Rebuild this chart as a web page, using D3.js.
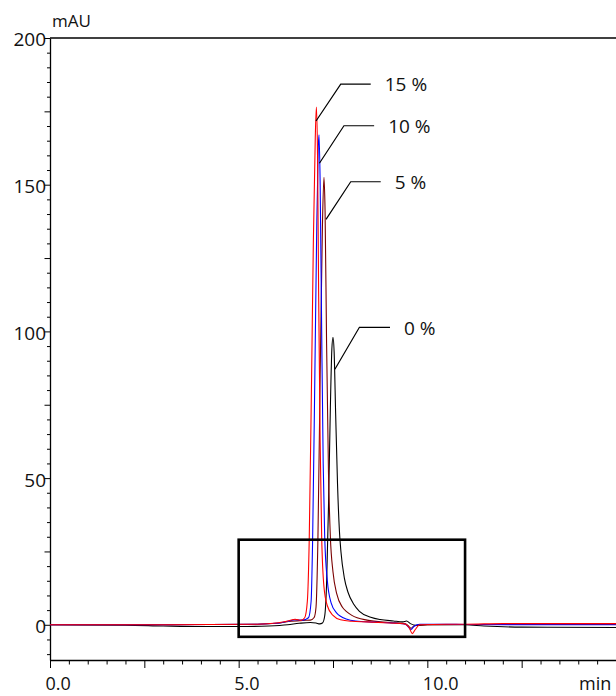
<!DOCTYPE html>
<html>
<head>
<meta charset="utf-8">
<script src="https://cdn.jsdelivr.net/npm/d3@7"></script>
<style>
  html, body { margin: 0; padding: 0; background: #fff; }
  svg { display: block; }
  text { font-family: "Open Sans", "DejaVu Sans", sans-serif; fill: #111; }
</style>
</head>
<body>
<div id="chart"></div>
<script>
// ---- Data (time in min, absorbance in mAU) ----
const seriesNames = ["0 %", "5 %", "10 %", "15 %"];
const seriesColors = ["#000000", "#7a0000", "#0000ff", "#ff0000"];

const trace0 = [ // 0 %
  [0,0],[2,-0.1],[3,-0.4],[4,-0.6],[5,-0.6],[5.8,-0.4],[6.3,0],[6.6,0.5],[6.9,0.8],[7.05,0.6],[7.15,0.3],
  [7.22,0.6],[7.28,3],[7.33,14],[7.38,40],[7.43,74],[7.47,94],[7.5,98],[7.53,93],[7.57,72],[7.62,48],
  [7.67,32],[7.71,25],[7.8,16],[7.9,11],[8.05,7],[8.2,4.6],[8.5,2.6],[8.75,1.8],[9.1,1.3],[9.35,1.0],
  [9.45,1.3],[9.55,0.4],[9.7,-0.2],[10,0],[11,0],[11.5,-0.4],[12.5,-0.8],[15,-0.9]
];
const trace5 = [ // 5 %
  [0,0],[3,0],[5.5,0.2],[6.0,0.5],[6.4,1.2],[6.7,1.5],[6.9,1.6],[7.0,2.5],[7.05,6],[7.1,29],[7.16,85],
  [7.22,136],[7.26,152.5],[7.29,141],[7.33,96],[7.38,52],[7.43,30],[7.5,18],[7.6,10.5],[7.75,6],[7.86,4.5],
  [8.0,3.2],[8.4,1.6],[9.0,0.8],[9.4,0.4],[9.5,-0.4],[9.57,-1.2],[9.65,-0.3],[10,0],[11,0.1],[15,0.1]
];
const trace10 = [ // 10 %
  [0,0],[3,0],[5.5,0.2],[6.0,0.5],[6.3,1.2],[6.5,1.7],[6.7,1.6],[6.85,2.4],[6.92,8],[6.96,29],[7.02,86],
  [7.07,136],[7.11,163],[7.13,167],[7.16,150],[7.2,100],[7.24,55],[7.28,30],[7.35,15],[7.45,7.5],
  [7.6,4],[7.7,2.9],[7.85,2],[8.1,1.3],[8.6,0.9],[9.2,0.5],[9.42,0.2],[9.5,-0.8],[9.57,-1.6],[9.65,-0.5],
  [9.8,0.2],[10.5,0.2],[11,0.1],[15,0]
];
const trace15 = [ // 15 %
  [0,0],[3,0],[5.5,0.2],[6.0,0.6],[6.3,1.3],[6.5,1.9],[6.65,1.5],[6.75,2.4],[6.82,8],[6.87,29],[6.93,82],
  [6.98,131],[7.03,166],[7.06,176.5],[7.09,160],[7.12,112],[7.16,62],[7.2,30],[7.26,13],[7.35,6.5],
  [7.5,3.2],[7.7,1.7],[8.0,1.2],[8.4,1.0],[9.0,0.6],[9.4,0.3],[9.52,-1],[9.6,-3],[9.68,-1.6],[9.8,0],
  [10.5,0.2],[11,0.2],[12,0.4],[15,0.4]
];
const traces = [trace0, trace5, trace10, trace15];

// Leader lines: [start t, start v, elbow t, elbow v, end t]
const leaders = [
  [7.55, 87.1, 8.20, 101.4, 9.01],
  [7.315, 138.2, 7.97, 151.0, 8.765],
  [7.14, 157.3, 7.79, 170.1, 8.59],
  [7.05, 171.7, 7.705, 184.3, 8.50]
];

// Highlight box: [t0, t1, v0, v1]
const box = [5.0, 11.0, -4.1, 29];

const xDomain = [0, 15];
const yDomain = [-12, 200];
const xMajor = [0, 5, 10];
const xMajorLabels = ["0.0", "5.0", "10.0"];
const yMajor = [0, 50, 100, 150, 200];
const xUnit = "min";
const yUnit = "mAU";

// ---- Layout ----
const W = 616, H = 696;
const FS = "19px";
const svg = d3.select("#chart").append("svg").attr("width", W).attr("height", H);

const x = d3.scaleLinear().domain(xDomain).range([50, 616]);
const y = d3.scaleLinear().domain(yDomain).range([660, 38]);

// Frame: top line
svg.append("line").attr("x1", x(0)).attr("x2", x(15)).attr("y1", y(200)).attr("y2", y(200))
  .attr("stroke", "#000").attr("stroke-width", 1.3);

// Y axis
const yTicks = d3.range(-10, 201, 5);
const yAxis = d3.axisLeft(y).tickValues(yTicks)
  .tickSize(0).tickFormat(d => yMajor.includes(d) ? d : "");
const gy = svg.append("g").attr("transform", `translate(${x(0)},0)`).call(yAxis);
gy.select(".domain").attr("stroke", "#000").attr("stroke-width", 1.3);
gy.selectAll(".tick line")
  .attr("x2", d => yMajor.includes(d) ? -6 : (d % 25 === 0 ? -5.5 : -3))
  .attr("stroke", "#000").attr("stroke-width", 1);
gy.selectAll(".tick text").attr("x", -4).attr("dy", "0.42em")
  .style("font-size", FS).style("font-family", "'Open Sans', sans-serif").attr("fill", "#111");

// X axis
const xTicks = d3.range(0, 15.01, 0.5);
const xAxis = d3.axisBottom(x).tickValues(xTicks).tickSize(0)
  .tickFormat(d => { const i = xMajor.indexOf(d); return i >= 0 ? xMajorLabels[i] : ""; });
const gx = svg.append("g").attr("transform", `translate(0,${y(-12)})`).call(xAxis);
gx.select(".domain").attr("stroke", "#000").attr("stroke-width", 1.3);
gx.selectAll(".tick line")
  .attr("y2", d => (Math.abs(d % 2.5) < 1e-9) ? 8 : 4.5)
  .attr("stroke", "#000").attr("stroke-width", 1);
gx.selectAll(".tick text").attr("y", 30).attr("dy", 0).attr("text-anchor", "start").attr("dx", -5)
  .style("font-size", "18px").style("font-family", "'Open Sans', sans-serif").attr("fill", "#111");

// Unit labels
svg.append("text").attr("x", 52).attr("y", 27).text(yUnit)
  .style("font-size", "17px");
svg.append("text").attr("x", 579).attr("y", y(-12) + 30).text(xUnit)
  .style("font-size", "18px");

// Traces
const line = d3.line().x(d => x(d[0])).y(d => y(d[1])).curve(d3.curveMonotoneX);
const plot = svg.append("g");
traces.forEach((t, i) => {
  plot.append("path").datum(t).attr("d", line)
    .attr("fill", "none").attr("stroke", seriesColors[i]).attr("stroke-width", 1.1)
    .attr("stroke-linejoin", "round");
});

// Highlight box
svg.append("rect")
  .attr("x", x(box[0])).attr("y", y(box[3]))
  .attr("width", x(box[1]) - x(box[0])).attr("height", y(box[2]) - y(box[3]))
  .attr("fill", "none").attr("stroke", "#000").attr("stroke-width", 2.6);

// Leader lines and labels
leaders.forEach((l, i) => {
  svg.append("polyline")
    .attr("points", [[x(l[0]), y(l[1])], [x(l[2]), y(l[3])], [x(l[4]), y(l[3])]].map(p => p.join(",")).join(" "))
    .attr("fill", "none").attr("stroke", "#000").attr("stroke-width", 1.2);
  svg.append("text").attr("x", x(l[4]) + 14).attr("y", y(l[3])).attr("dy", "0.38em")
    .text(seriesNames[i]).style("font-size", FS);
});
</script>
</body>
</html>
